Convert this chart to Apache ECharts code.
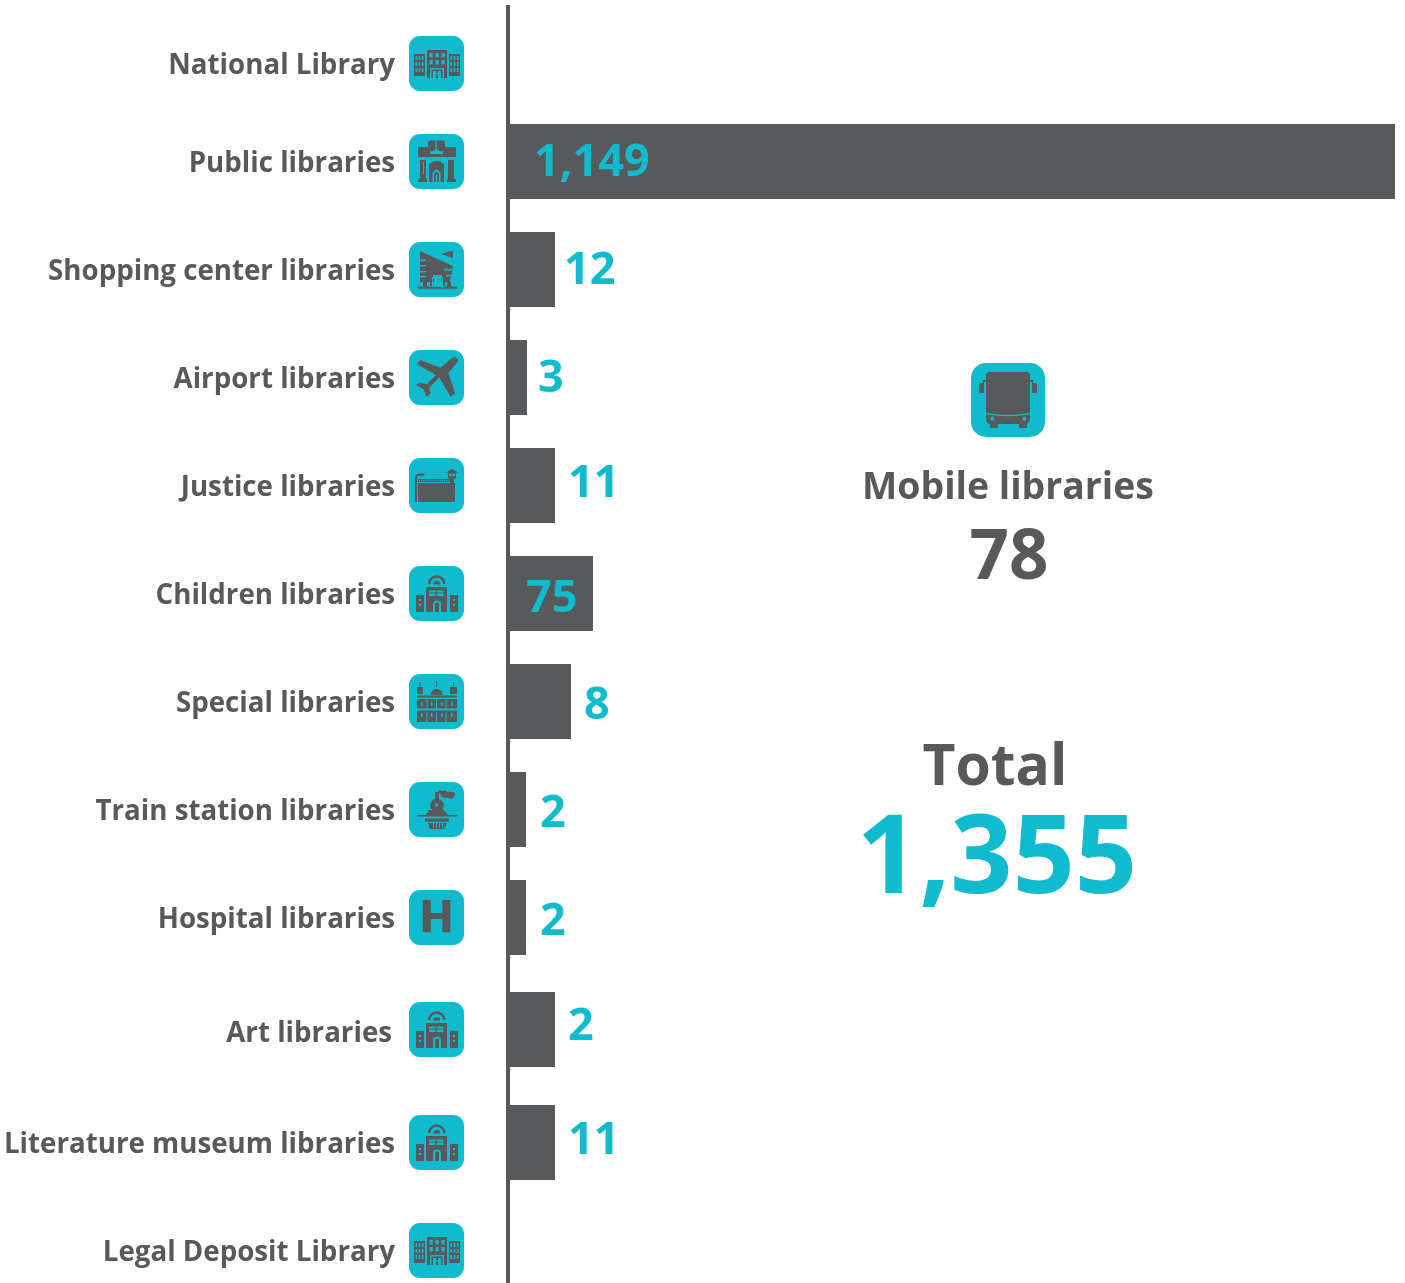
<!DOCTYPE html>
<html><head><meta charset="utf-8">
<style>html,body{margin:0;padding:0;background:#fff}#c{width:1405px;height:1283px}</style>
<script src="https://cdn.jsdelivr.net/npm/echarts@6/dist/echarts.min.js"></script>
</head><body><div id="c"></div>
<script>
// ---------- data ----------
const categories = ['National Library','Public libraries','Shopping center libraries','Airport libraries','Justice libraries','Children libraries','Special libraries','Train station libraries','Hospital libraries','Art libraries','Literature museum libraries','Legal Deposit Library'];
const valueLabels = ['','1,149','12','3','11','75','8','2','2','2','11',''];
// drawn bar lengths (the reference bars are not proportional to their numbers)
const barLengths = [0,887,47,19,47,85,63,18,18,47,47,0];
// row centres (rows are unevenly spaced)
const rowCentres = [58.5,156.5,264.5,372.5,480.5,588.5,696.5,804.5,912.5,1024.5,1137.5,1245.5];
const iconNames = ['hospital','publicLib','mall','plane','prison','school','palace','train','h','school','school','hospital'];

// ---------- style / layout ----------
const DARK='#58595b', TEAL='#10bbce';
const FONT='"Open Sans","Noto Sans",sans-serif';
const valueLabelX=[0,26,56,30,60,18,76,32,32,60,60,0];     // text left, px from axis
const valueLabelDY=[0,2,2,2,-1,6,5,5,5,-2,-1,0];
const catDX=[0,0,0,0,0,0,0,0,0,-3,0,0];
const catDY=[2.5,2.5,2.5,2.5,2.5,2.5,2.5,2.5,2.5,5,2.5,2.5];

const r=(x,y,w,h)=>`M${x} ${y}L${x+w} ${y}L${x+w} ${y+h}L${x} ${y+h}Z`;
const poly=p=>'M'+p.map(q=>q.join(' ')).join('L')+'Z';
const grid=(xs,ys,w,h)=>xs.map(x=>ys.map(y=>r(x,y,w,h)).join('')).join('');
const glyphs={
 hospital:{d:r(5,18,11,22)+r(18,14,20,28)+r(40,18,11,22),
  t:grid([6.5,9.7,12.9],[20,26,32],1.6,4)+grid([41.5,44.7,47.9],[20,26,32],1.6,4)+grid([20.5,26.5,32.5],[17,24],3.2,4.6)+r(21,32,14,10)+'',
  d2:r(22.5,33.5,11,8.5)+r(27.5,33.5,1,8.5), t2:r(24,35,3,7)+r(29,35,3,7)+r(26,37,4,1.2)},
 publicLib:{d:r(9,13,38,10)+'M19 18L19 9Q19 6.5 21 6.5L34 6.5Q36 6.5 36 9L36 18Z'+r(11,26,6,20)+r(39,26,6,20)+r(9,45,9,3)+r(38,45,9,3)+'M20 30Q27.5 24 35 30L35 48L20 48Z',
  t:r(26.5,6.5,1.2,9)+'M21 17Q26 18 27.5 14Q29 18 34 17L34 20L21 20Z'+r(14,28,1,12)+'M23.5 48L23.5 39Q27.5 32 31.5 39L31.5 48Z',
  d2:'M25 48L25 40Q27.5 36 30 40L30 48Z', t2:r(26.7,41,1.6,7)},
 mall:{d:'M11 9L44 24L41 40L11 40Z'+poly([[32,12],[44,8.5],[44,16]])+r(9,44.5,39,2.2)+r(14,40,4,5)+r(38,40,4,5)+r(27,40,3,5),
  t:r(11,17.5,6,1.6)+r(11,23,6,1.6)+r(11,29,6,1.6)+r(11,34,6,1.6)+r(35,27,8,1.6)+r(37,33,6,1.6)+r(25,36,7,9)+r(21,35,3,10)+r(33,35,3,10),
  d2:r(21,30,2,14)+r(34,30,2,14)+r(21,29,15,2), t2:r(24,33,9,3)},
 plane:{d:poly([[42.7,8.3],[46,6.7],[49.3,10],[47.7,13.3],[39.3,22.7],[46,43.3],[41.7,46.7],[30.3,27.3],[20.3,37.7],[21.7,42.7],[17.7,47.3],[14.3,39.3],[7,35],[10.3,32.7],[17.7,34.3],[27,25],[7.7,14],[11.7,10],[31.7,17.7]]),t:''},
 prison:{d:r(9,25,37,19)+r(9,21,34,3)+r(6,20,2,24)+'M6 20Q6 15.5 11 15.5L16 15.5L14 18L10 17.5Q8 18 8 20Z'+poly([[37.5,14.5],[43,10.5],[49,14.5]])+r(39,14.5,8,6)+r(41,20.5,4,4.5),
  t:r(40,15.5,2.5,2.5)+r(43.5,15.5,2.5,2.5)+Array.from({length:15},(_,i)=>r(10+i*2.1,22,1,1.2)).join('')},
 school:{d:r(17,21,21,25)+r(7,29,8,17)+r(41,29,8,17)+'M19 18A8.7 8.7 0 0 1 36.4 18L33.9 18A6.2 6.2 0 0 0 21.5 18Z'+'M24.3 18.5A3.4 3.4 0 0 1 31.1 18.5Z',
  t:r(20,24.5,14.5,5.5)+'M24 46L24 38.5A4 4 0 0 1 32 38.5L32 46Z'+grid([10],[33,38],2,2)+grid([44],[33,38],2,2),
  d2:r(20,26.5,14.5,1)+r(26.6,24.5,1.3,5.5)+'M26 46L26 38.5A2 2 0 0 1 30 38.5L30 46Z', t2:''},
 palace:{d:r(8,25,40,23)+r(8,21.5,40,2)+r(8,13,6,7)+r(41,13,7,7)+r(10.5,8,1,5)+r(44,8,1,5)+r(27,7,1,6)+'M21.5 21A6.2 7 0 0 1 33.8 21Z',
  t:grid([17.5,27,36.5],[25,38],1,10)+r(8,34.5,40,2)+grid([12,22,32,42],[28,39],1.4,4)},
 train:{d:'M26 10L30 10L30 17A7 7 0 1 1 26 17Z'+poly([[16,34],[20,28],[35,28],[40,34]])+r(8,33,40,1.5)+r(16,36.5,24,3.2)+poly([[19,41],[38,41],[35,47],[21,47]])+'M29 9Q31 7 33 9Q37 8 38 10Q42 9 46 11Q47 15 42 17Q38 15 35 16Q32 14 31 12Z',
  t:'M27.5 21.5A1.6 1.6 0 1 1 27.4 21.5Z'+r(22,27,1.2,1.2)+r(24,41,1,5)+r(27,41,1,5)+r(30,41,1,5)+r(33,41,1,5)},
 h:{d:r(13.7,10,8,32.3)+r(33.3,10,8,32.3)+r(21.7,23,11.6,6),t:''}
};
const withFrame=p=>'M0 0M55 55'+p;

function renderRow(params,api){
 const i=params.dataIndex;
 const len=api.value(0), y=api.value(1);
 const p0=api.coord([0,y]), p1=api.coord([len,y]);
 const ch=[];
 if(len>0) ch.push({type:'rect',shape:{x:p0[0]-2,y:p0[1]-37.5,width:p1[0]-p0[0]+2,height:75},style:{fill:DARK}});
 // icon
 const ix=p0[0]-99, iy=p0[1]-27.5, g=glyphs[iconNames[i]];
 ch.push({type:'rect',shape:{x:ix,y:iy,width:55,height:55,r:11},style:{fill:TEAL}});
 [['d',DARK],['t',TEAL],['d2',DARK],['t2',TEAL]].forEach(([k,col])=>{
  if(g[k]) ch.push({type:'path',shape:{pathData:withFrame(g[k]),x:ix,y:iy,width:55,height:55,layout:'cover'},style:{fill:col}});
 });
 // category label
 ch.push({type:'text',x:p0[0]-113+catDX[i],y:p0[1]+catDY[i],style:{text:categories[i],fill:DARK,font:`700 27.7px ${FONT}`,textAlign:'right',textVerticalAlign:'middle',align:'right',verticalAlign:'middle'}});
 // value label
 if(valueLabels[i]) ch.push({type:'text',x:p0[0]+valueLabelX[i],y:p0[1]+valueLabelDY[i],style:{text:valueLabels[i],fill:TEAL,font:`700 45px ${FONT}`,textAlign:'left',textVerticalAlign:'middle',align:'left',verticalAlign:'middle'}});
 return {type:'group',children:ch};
}

const B=p=>'M0 0M74 74'+p;
function renderBus(){
 return {type:'group',x:971,y:363,children:[
    {type:'rect',shape:{x:0,y:0,width:74,height:74,r:15},style:{fill:TEAL}},
    {type:'path',shape:{pathData:B('M19 9L55 9Q59 9 59 13L59 54Q59 61 55 61L19 61Q15 61 15 54L15 13Q15 9 19 9Z'+r(19,61,8,4)+r(48,61,8,4)+'M8 22Q8 20 10 20L12 20L12 17L15 17L15 19L13 19L13 30L9 30Q8 30 8 29Z'+'M66 22Q66 20 64 20L62 20L62 17L59 17L59 19L61 19L61 30L65 30Q66 30 66 29Z'),x:0,y:0,width:74,height:74,layout:'cover'},style:{fill:DARK}},
    {type:'path',shape:{pathData:B('M15 50Q37 54 59 50L59 51.2Q37 55.2 15 51.2Z'+'M19.3 55.7A2 2 0 1 1 23.3 55.7A2 2 0 1 1 19.3 55.7Z'+'M51.3 55.7A2 2 0 1 1 55.3 55.7A2 2 0 1 1 51.3 55.7Z'),x:0,y:0,width:74,height:74,layout:'cover'},style:{fill:TEAL}}
 ]};
}
const chart=echarts.init(document.getElementById('c'),null,{renderer:'canvas'});
const centred=(x,y,text,fill,size)=>({type:'text',x,y,style:{text,fill,font:`700 ${size}px ${FONT}`,textAlign:'center',textVerticalAlign:'middle',align:'center',verticalAlign:'middle'}});
chart.setOption({
 animation:false,
 backgroundColor:'#fff',
 grid:{left:508,top:5,width:887,height:1278,containLabel:false},
 xAxis:{type:'value',min:0,max:887,show:false},
 yAxis:{type:'value',min:0,max:1278,inverse:true,position:'left',splitLine:{show:false},axisTick:{show:false},axisLabel:{show:false},
   axisLine:{show:true,onZero:false,lineStyle:{color:DARK,width:4,cap:'butt'}}},
 series:[{type:'custom',clip:false,coordinateSystem:'cartesian2d',encode:{x:0,y:1},
   data:barLengths.map((v,i)=>[v,rowCentres[i]]),renderItem:renderRow},
   {type:'custom',coordinateSystem:'none',data:[[0]],renderItem:renderBus}],
 graphic:[
  centred(1008,488,'Mobile libraries',DARK,37.4),
  centred(1009,559,'78',DARK,69),
  centred(995,769,'Total',DARK,57),
  centred(997,862,'1,355',TEAL,109)
 ]
});
</script></body></html>
